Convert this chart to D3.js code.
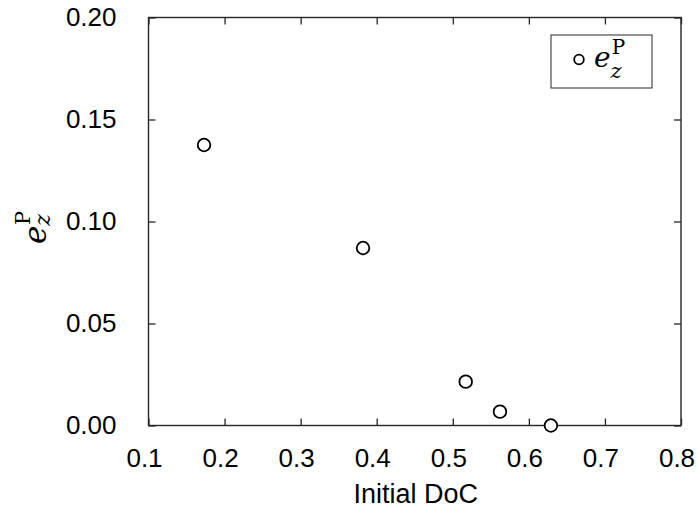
<!DOCTYPE html>
<html>
<head>
<meta charset="utf-8">
<script src="https://cdn.jsdelivr.net/npm/d3@7"></script>
<style>
  body { margin: 0; background: #fff; }
  svg { display: block; }
  .tick text { font-family: "Liberation Sans", Arial, sans-serif; font-size: 26px; fill: #000; }
</style>
</head>
<body>
<div id="chart"></div>
<script>
// Data.
var initialDoC = [0.173, 0.382, 0.517, 0.562, 0.629];
var ezP = [0.1375, 0.0870, 0.0215, 0.0068, 0.0];
var xTicks = [0.1, 0.2, 0.3, 0.4, 0.5, 0.6, 0.7, 0.8];
var yTicks = [0, 0.05, 0.10, 0.15, 0.20];

var width = 698, height = 514;
var margin = {left: 148.5, right: 17, top: 17.5, bottom: 88.5};
var innerW = width - margin.left - margin.right;
var innerH = height - margin.top - margin.bottom;
var axisColor = '#262626';

var svg = d3.select('#chart')
            .append('svg')
            .attr('width', width)
            .attr('height', height);

var g = svg.append('g')
           .attr('transform', 'translate(' + margin.left + ',' + margin.top + ')');

var x = d3.scaleLinear().domain([0.1, 0.8]).range([0, innerW]);
var y = d3.scaleLinear().domain([0, 0.2]).range([innerH, 0]);

// Bottom axis with inward ticks.
var xAxis = g.append('g')
   .attr('transform', 'translate(0,' + innerH + ')')
   .call(d3.axisBottom(x).tickValues(xTicks).tickFormat(d3.format('.1f'))
           .tickSizeInner(-7).tickSizeOuter(0).tickPadding(23));
// labels sit a little left of their ticks in the reference
xAxis.selectAll('.tick text').attr('dx', -4.5);

// Left axis with inward ticks.
var yAxis = g.append('g')
   .call(d3.axisLeft(y).tickValues(yTicks).tickFormat(d3.format('.2f'))
           .tickSizeInner(-7).tickSizeOuter(0).tickPadding(32));

// Mirrored ticks on top and right, no labels.
var xTop = g.append('g')
   .call(d3.axisTop(x).tickValues(xTicks).tickFormat('')
           .tickSizeInner(-7).tickSizeOuter(0));
var yRight = g.append('g')
   .attr('transform', 'translate(' + innerW + ',0)')
   .call(d3.axisRight(y).tickValues(yTicks).tickFormat('')
           .tickSizeInner(-7).tickSizeOuter(0));

[xAxis, yAxis, xTop, yRight].forEach(function(a) {
  a.select('.domain').remove();
  a.selectAll('.tick line').attr('stroke', axisColor).attr('stroke-width', 1.3);
});

// Box around the plot.
g.append('rect')
 .attr('x', 0)
 .attr('y', 0)
 .attr('width', innerW)
 .attr('height', innerH)
 .attr('fill', 'none')
 .attr('stroke', axisColor)
 .attr('stroke-width', 1.4);

// Points.
g.selectAll('circle.pt')
 .data(initialDoC)
 .enter()
 .append('circle')
 .attr('class', 'pt')
 .attr('cx', function(d) { return x(d); })
 .attr('cy', function(d, i) { return y(ezP[i]); })
 .attr('r', 6.3)
 .attr('fill', '#fff')
 .attr('stroke', '#000')
 .attr('stroke-width', 1.8);

// X axis label.
svg.append('text')
   .attr('x', margin.left + innerW / 2 + 1)
   .attr('y', 503)
   .attr('text-anchor', 'middle')
   .style('font-family', '"Liberation Sans", Arial, sans-serif')
   .style('font-size', '27px')
   .text('Initial DoC');

// Y axis label: e_z^P, rotated.
var yl = svg.append('text')
   .attr('transform', 'translate(46,' + (margin.top + innerH / 2 + 6) + ') rotate(-90)')
   .attr('text-anchor', 'middle')
   .style('font-family', '"DejaVu Serif", "Liberation Serif", serif')
   .style('font-size', '31px');
yl.append('tspan').style('font-style', 'italic').text('e');
yl.append('tspan').attr('dy', 4).style('font-style', 'italic').style('font-size', '22px').text('z');
yl.append('tspan').attr('dx', -11).attr('dy', -20).style('font-size', '21px').text('P');

// Legend.
var lg = svg.append('g').attr('transform', 'translate(551,35)');
lg.append('rect')
  .attr('width', 101)
  .attr('height', 53)
  .attr('fill', '#fff')
  .attr('stroke', axisColor)
  .attr('stroke-width', 1);
lg.append('circle')
  .attr('cx', 28)
  .attr('cy', 24.5)
  .attr('r', 4.8)
  .attr('fill', '#fff')
  .attr('stroke', '#000')
  .attr('stroke-width', 1.8);
var lt = lg.append('text')
  .attr('x', 43)
  .attr('y', 32)
  .style('font-family', '"DejaVu Serif", "Liberation Serif", serif')
  .style('font-size', '28px');
lt.append('tspan').style('font-style', 'italic').text('e');
lt.append('tspan').attr('dy', 11).style('font-style', 'italic').style('font-size', '21px').text('z');
lt.append('tspan').attr('dx', -10).attr('dy', -24).style('font-size', '20px').text('P');
</script>
</body>
</html>
